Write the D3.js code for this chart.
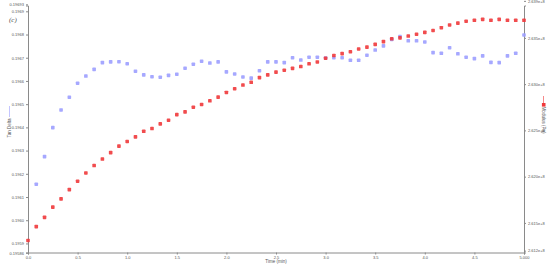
<!DOCTYPE html>
<html>
<head>
<meta charset="utf-8">
<script src="https://cdn.jsdelivr.net/npm/d3@7"></script>
<style>
  body { margin: 0; background: #fff; }
  svg { display: block; }
  text { font-family: "Liberation Sans", Arial, sans-serif; fill: #555; }
</style>
</head>
<body>
<div id="chart"></div>
<script>
// Chart size
var width = 550, height = 267;
var margin = {top: 5.5, right: 26, bottom: 14.5, left: 28};

// time axis, one reading every 5 s
var times = [0, 0.0833, 0.1667, 0.25, 0.3333, 0.4167, 0.5, 0.5833, 0.6667, 0.75,
    0.8333, 0.9167, 1.0, 1.0833, 1.1667, 1.25, 1.3333, 1.4167, 1.5, 1.5833,
    1.6667, 1.75, 1.8333, 1.9167, 2.0, 2.0833, 2.1667, 2.25, 2.3333, 2.4167,
    2.5, 2.5833, 2.6667, 2.75, 2.8333, 2.9167, 3.0, 3.0833, 3.1667, 3.25,
    3.3333, 3.4167, 3.5, 3.5833, 3.6667, 3.75, 3.8333, 3.9167, 4.0, 4.0833,
    4.1667, 4.25, 4.3333, 4.4167, 4.5, 4.5833, 4.6667, 4.75, 4.8333, 4.9167, 5.0];

// Tan Delta (left axis), first reading is off scale
var tanDelta = [null, 0.196155, 0.196274, 0.196399, 0.196475, 0.196530, 0.196590, 0.196621, 0.196650, 0.196679,
    0.196682, 0.196683, 0.196674, 0.196642, 0.196626, 0.196618, 0.196616, 0.196624, 0.196629, 0.196655,
    0.196672, 0.196685, 0.196677, 0.196682, 0.196639, 0.196630, 0.196617, 0.196612, 0.196644, 0.196682,
    0.196682, 0.196679, 0.196700, 0.196690, 0.196702, 0.196702, 0.196699, 0.196700, 0.196700, 0.196689,
    0.196689, 0.196711, 0.196733, 0.196751, 0.196779, 0.196791, 0.196773, 0.196773, 0.196768, 0.196722,
    0.196719, 0.196743, 0.196717, 0.196702, 0.196696, 0.196708, 0.196680, 0.196679, 0.196708, 0.196719,
    0.196798];

// Modulus in Pa (right axis), in units of 1e8
var modulus = [2.6131, 2.6146, 2.6156, 2.6167, 2.6176, 2.6186, 2.6195, 2.6204, 2.6212, 2.6219,
    2.6226, 2.6233, 2.6238, 2.6243, 2.6249, 2.6252, 2.6257, 2.6261, 2.6267, 2.6270,
    2.6275, 2.6278, 2.6282, 2.6286, 2.6291, 2.6295, 2.6299, 2.6302, 2.6307, 2.6310,
    2.6313, 2.6315, 2.6317, 2.6319, 2.6322, 2.6324, 2.6328, 2.6331, 2.6333, 2.6335,
    2.6338, 2.6340, 2.6343, 2.6346, 2.6349, 2.6350, 2.6352, 2.6354, 2.6356, 2.6358,
    2.6361, 2.6364, 2.6366, 2.6368, 2.6369, 2.6370, 2.6369, 2.6370, 2.6369, 2.6369,
    2.6369];

// tick labels
var xTicks = [0, 0.5, 1.0, 1.5, 2.0, 2.5, 3.0, 3.5, 4.0, 4.5, 5.0];
var leftTicks = [0.19586, 0.1959, 0.1960, 0.1961, 0.1962, 0.1963, 0.1964, 0.1965, 0.1966, 0.1967, 0.1968, 0.1969, 0.19693];
var rightTicks = [2.612, 2.615, 2.620, 2.625, 2.630, 2.635, 2.639];

var blue = "#9c9eff", red = "#f0393b";
var ms = 3.6; // marker size

var svg = d3.select("#chart").append("svg")
    .attr("width", width)
    .attr("height", height);

var x = d3.scaleLinear().domain([0, 5]).range([margin.left, width - margin.right]);
var yL = d3.scaleLinear().domain([0.195861, 0.196925]).range([height - margin.bottom, margin.top]);
var yR = d3.scaleLinear().domain([2.6118, 2.6385]).range([height - margin.bottom, margin.top]);

var axisColor = "#8a8a8a";

// bottom axis
var xAxis = svg.append("g")
    .attr("transform", "translate(0," + (height - margin.bottom) + ")")
    .call(d3.axisBottom(x).tickValues(xTicks).tickSize(2).tickPadding(1.5)
        .tickFormat(function (d) { return d === 5 ? "5.000" : d3.format(".1f")(d); }));

// left axis
var leftAxis = svg.append("g")
    .attr("transform", "translate(" + margin.left + ",0)")
    .call(d3.axisLeft(yL).tickValues(leftTicks).tickSize(2).tickPadding(2)
        .tickFormat(function (d) {
            var s = d3.format(".5f")(d);
            return s.replace(/0$/, "");
        }));

// right axis
var rightAxis = svg.append("g")
    .attr("transform", "translate(" + (width - margin.right) + ",0)")
    .call(d3.axisRight(yR).tickValues(rightTicks).tickSize(2).tickPadding(2)
        .tickFormat(function (d) { return d3.format(".3f")(d) + "e+8"; }));

[xAxis, leftAxis, rightAxis].forEach(function (g) {
    g.select(".domain").attr("stroke", axisColor).attr("stroke-width", 1);
    g.selectAll(".tick line").attr("stroke", axisColor);
    g.selectAll(".tick text").style("font-size", "4px").attr("fill", "#777");
});

// Tan Delta points
svg.append("g").selectAll("rect")
    .data(times.map(function (t, i) { return [t, tanDelta[i]]; }).filter(function (d) { return d[1] !== null; }))
    .enter()
    .append("rect")
    .attr("x", function (d) { return x(d[0]) - ms / 2; })
    .attr("y", function (d) { return yL(d[1]) - ms / 2; })
    .attr("width", ms)
    .attr("height", ms)
    .attr("rx", 0.7)
    .style("fill", blue)
    .style("opacity", 0.9);

// Modulus points
svg.append("g").selectAll("rect")
    .data(times.map(function (t, i) { return [t, modulus[i]]; }))
    .enter()
    .append("rect")
    .attr("x", function (d) { return x(d[0]) - ms / 2; })
    .attr("y", function (d) { return yR(d[1]) - ms / 2; })
    .attr("width", ms)
    .attr("height", ms)
    .attr("rx", 0.7)
    .style("fill", red)
    .style("opacity", 0.9);

// axis titles
svg.append("text")
    .attr("x", (margin.left + width - margin.right) / 2)
    .attr("y", height - 4)
    .attr("text-anchor", "middle")
    .style("font-size", "4.5px")
    .text("Time (min)");

var lt = svg.append("g").attr("transform", "translate(11,128) rotate(-90)");
lt.append("text")
    .attr("x", 0).attr("y", 0)
    .attr("text-anchor", "middle")
    .style("font-size", "4.5px")
    .text("Tan Delta");
lt.append("line")
    .attr("x1", 11).attr("x2", 22).attr("y1", -1.5).attr("y2", -1.5)
    .attr("stroke", blue).attr("stroke-width", 0.6);

var rt = svg.append("g").attr("transform", "translate(542,120) rotate(90)");
rt.append("text")
    .attr("x", 0).attr("y", 0)
    .attr("text-anchor", "middle")
    .style("font-size", "4.5px")
    .text("Modulus (Pa)");
rt.append("line")
    .attr("x1", -24).attr("x2", -14).attr("y1", -1.5).attr("y2", -1.5)
    .attr("stroke", red).attr("stroke-width", 0.6);
rt.append("rect")
    .attr("x", -17).attr("y", -3.5).attr("width", ms).attr("height", ms)
    .style("fill", red);

// panel letter
svg.append("text")
    .attr("x", 9)
    .attr("y", 22)
    .style("font-family", "'Liberation Serif', serif")
    .style("font-style", "italic")
    .style("font-size", "7px")
    .attr("fill", "#333")
    .text("(c)");
</script>
</body>
</html>
